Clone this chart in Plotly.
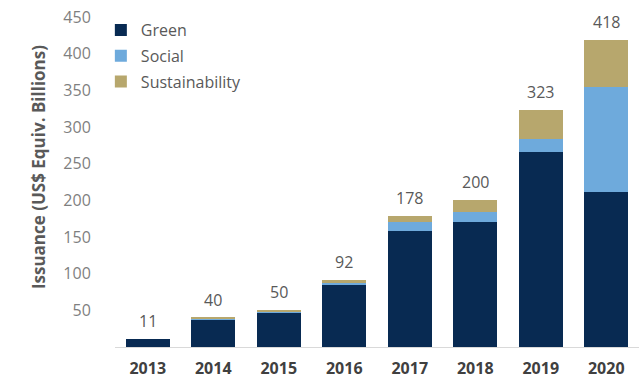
import plotly.graph_objects as go

years = ["2013", "2014", "2015", "2016", "2017", "2018", "2019", "2020"]
green = [11, 38, 46, 84, 158, 171, 266, 211]
social = [0, 1, 3, 3, 12, 13, 18, 144]
sustainability = [0, 1, 1, 5, 8, 16, 39, 63]
totals = [11, 40, 50, 92, 178, 200, 323, 418]
y_ticks = [50, 100, 150, 200, 250, 300, 350, 400, 450]

colors = {"Green": "#082a52", "Social": "#6eaadc", "Sustainability": "#b7a76d"}

fig = go.Figure()
for name, vals in [("Green", green), ("Social", social), ("Sustainability", sustainability)]:
    fig.add_trace(go.Bar(x=years, y=vals, name=name, legendgroup=name,
                         marker_color=colors[name], marker_line_width=0))

# total labels above each stack (x given as category index)
for i, tot in enumerate(totals):
    fig.add_annotation(x=i, y=tot, text=str(tot), showarrow=False,
                       yanchor="bottom", yshift=5,
                       font=dict(family="Open Sans", size=16, color="#595959"))

# vertical axis title
fig.add_annotation(xref="paper", yref="paper", x=-0.147, y=0.545,
                   text="Issuance (US$ Equiv. Billions)", textangle=-90,
                   showarrow=False, xanchor="center", yanchor="middle",
                   font=dict(family="Open Sans", size=17, color="#595959", weight="bold"))

fig.update_layout(
    barmode="stack",
    bargap=0.33,
    width=641, height=378,
    margin=dict(l=115, r=2, t=17, b=31),
    plot_bgcolor="white", paper_bgcolor="white",
    font=dict(family="Open Sans", size=16, color="#7f7f7f"),
    showlegend=True,
    legend=dict(x=-0.027, y=1.012, xanchor="left", yanchor="top",
                traceorder="grouped", tracegroupgap=2,
                font=dict(size=16, color="#595959"), itemwidth=30,
                bgcolor="rgba(0,0,0,0)"),
    xaxis=dict(type="category", range=[-0.5, 7.5], showline=True, linecolor="#d9d9d9",
               linewidth=1, ticks="outside", ticklen=7, tickcolor="white", automargin=False,
               tickfont=dict(size=16, color="#404040", family="Open Sans", weight="bold")),
    yaxis=dict(range=[0, 450], tickvals=y_ticks, showgrid=False, zeroline=False,
               showline=False, ticks="outside", ticklen=20, tickcolor="white",
               automargin=False, tickfont=dict(size=16, color="#7f7f7f")),
)

fig.write_html("out.html")
